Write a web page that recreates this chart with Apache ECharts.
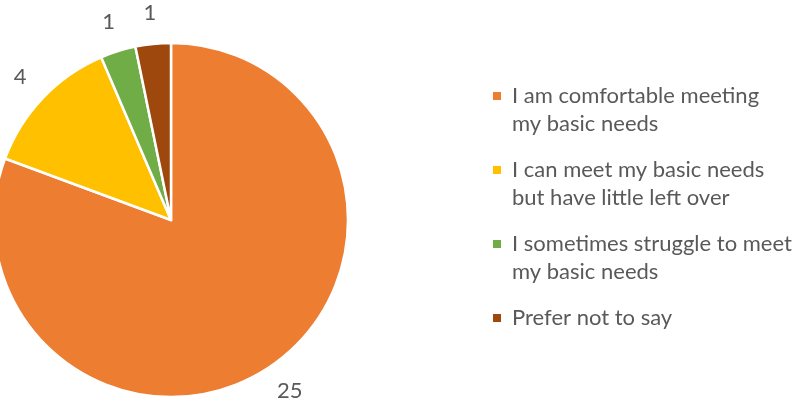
<!DOCTYPE html>
<html>
<head>
<meta charset="utf-8">
<style>
  html, body { margin: 0; padding: 0; background: #ffffff; }
  #chart { width: 802px; height: 407px; }
</style>
<script src="https://cdn.jsdelivr.net/npm/echarts@6/dist/echarts.min.js"></script>
</head>
<body>
<div id="chart"></div>
<script>
// Survey responses: ability to meet basic needs
const categories = [
  'I am comfortable meeting\nmy basic needs',
  'I can meet my basic needs\nbut have little left over',
  'I sometimes struggle to meet\nmy basic needs',
  'Prefer not to say'
];
const counts = [25, 4, 1, 1];
const colors = ['#ED7D31', '#FFC000', '#70AD47', '#9E480E'];

const textColor = '#595959';
const fontFamily = 'Lato, "Noto Sans", sans-serif';

// Legend markers: square sits beside the first line of two-line names
const iconTwoLine = 'path://M0,0H8V8H0ZM0,36L14,36';
const iconOneLine = 'path://M0,0H8V8H0ZM14,8L14,8';

const pieData = categories.map((name, i) => ({
  name: name,
  value: counts[i],
  itemStyle: { color: colors[i] }
}));

const chart = echarts.init(document.getElementById('chart'), null, { renderer: 'canvas' });

chart.setOption({
  animation: false,
  backgroundColor: '#ffffff',
  legend: {
    orient: 'vertical',
    left: 493,
    top: 82,
    padding: 0,
    itemWidth: 14,
    itemHeight: 36,
    itemGap: 18,
    symbolKeepAspect: true,
    selectedMode: false,
    itemStyle: { borderWidth: 0 },
    textStyle: {
      color: textColor,
      fontFamily: fontFamily,
      fontSize: 22,
      lineHeight: 28
    },
    data: categories.map(name => ({
      name: name,
      icon: name.indexOf('\n') >= 0 ? iconTwoLine : iconOneLine
    }))
  },
  series: [
    {
      name: 'Responses',
      type: 'pie',
      center: [171, 220],
      radius: [0, 177],
      startAngle: 90,
      clockwise: true,
      silent: true,
      itemStyle: { borderColor: '#ffffff', borderWidth: 2.5 },
      label: { show: false },
      labelLine: { show: false },
      data: pieData
    },
    {
      // transparent ring that carries the value labels just outside the pie
      name: 'Values',
      type: 'pie',
      center: [171, 220],
      radius: [196, 214],
      startAngle: 90,
      clockwise: true,
      silent: true,
      itemStyle: { color: 'rgba(0,0,0,0)', borderWidth: 0 },
      label: {
        show: true,
        position: 'inside',
        formatter: '{c}',
        color: textColor,
        fontFamily: fontFamily,
        fontSize: 22
      },
      labelLine: { show: false },
      data: categories.map((name, i) => ({ name: name, value: counts[i] }))
    }
  ]
});
</script>
</body>
</html>
